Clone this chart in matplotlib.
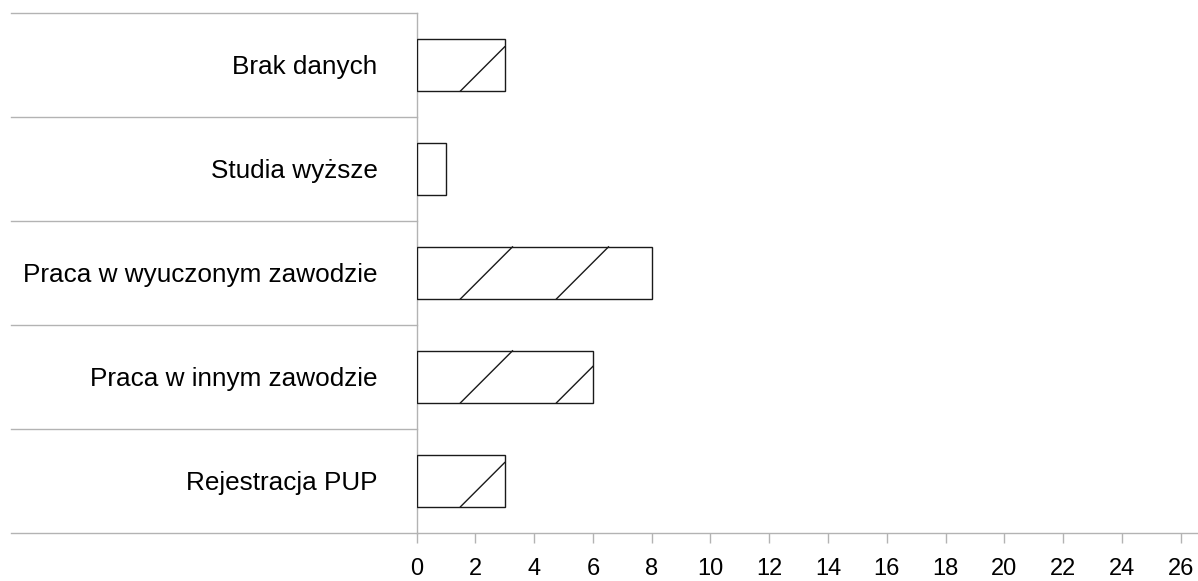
import matplotlib
matplotlib.use("Agg")
import matplotlib.pyplot as plt
from matplotlib.lines import Line2D
from matplotlib.transforms import IdentityTransform

categories = ["Rejestracja PUP", "Praca w innym zawodzie", "Praca w wyuczonym zawodzie",
              "Studia wyższe", "Brak danych"]
values = [3, 6, 8, 1, 3]
xticks = list(range(0, 27, 2))

plt.rcParams['font.family'] = ['Liberation Sans', 'DejaVu Sans']
DPI = 100
W, H = 1198, 581
fig = plt.figure(figsize=(W / DPI, H / DPI), dpi=DPI)
ax = fig.add_axes([416.5 / W, 48.3 / H, (1197 - 416.5) / W, (532.7 - 13) / H])

ypos = list(range(len(categories)))
bars = ax.barh(ypos, values, height=0.5, color='white', edgecolor='#1a1a1a',
               linewidth=1.0, zorder=3)
ax.set_xlim(0, 26.55)
ax.set_ylim(-0.5, len(categories) - 0.5)

grey = '#b3b3b3'
for s in ['top', 'right']:
    ax.spines[s].set_visible(False)
ax.spines['left'].set_color(grey)
ax.spines['bottom'].set_color(grey)
ax.spines['left'].set_linewidth(1.0)
ax.spines['bottom'].set_linewidth(1.0)

ax.set_xticks(xticks)
ax.set_xticklabels([str(t) for t in xticks])
ax.tick_params(axis='x', direction='out', length=7.5, width=1.0, color=grey,
               labelsize=17, pad=11, labelcolor='black')
ax.set_yticks(ypos)
ax.set_yticklabels(categories)
ax.tick_params(axis='y', length=0, labelsize=18.8, pad=28, labelcolor='black')

# category separators extending to the left
left_frac = (11 - 416.5) / (1197 - 416.5)
for k in range(len(categories) + 1):
    y = k - 0.5
    ax.add_line(Line2D([left_frac, 0], [y, y], transform=ax.get_yaxis_transform(),
                       color=grey, linewidth=1.0, clip_on=False))

# sparse diagonal hatching, anchored at each bar's lower-left corner
fig.canvas.draw()
for b in bars:
    bb = b.get_window_extent()
    x0, y0, x1, y1 = bb.x0, bb.y0, bb.x1, bb.y1
    h = y1 - y0
    start = x0 + 44
    while start < x1:
        xa, ya = start, y0
        xb, yb = start + h, y1
        if xb > x1:
            yb = y0 + (x1 - start)
            xb = x1
        ln = Line2D([xa, xb], [ya, yb], transform=IdentityTransform(),
                    color='#1a1a1a', linewidth=1.0, zorder=4)
        ax.add_artist(ln)
        ln.set_clip_on(False)
        start += 96

fig.savefig("out.png", dpi=DPI, facecolor='white')
